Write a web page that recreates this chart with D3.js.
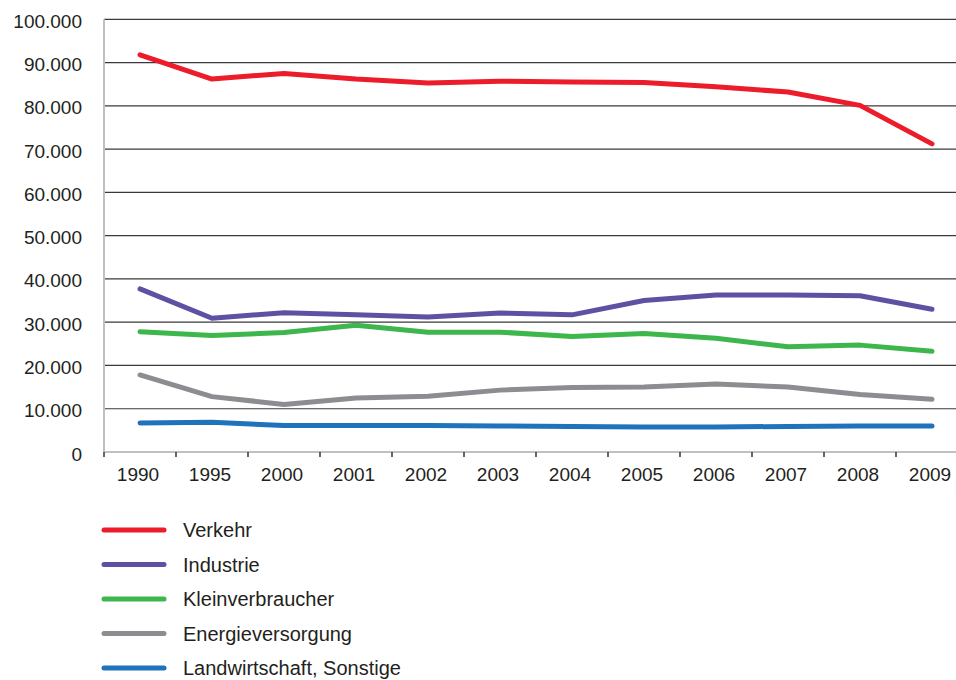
<!DOCTYPE html>
<html>
<head>
<meta charset="utf-8">
<script src="https://cdn.jsdelivr.net/npm/d3@7"></script>
<style>
  body { margin: 0; background: #fff; }
  text { font-family: "Liberation Sans", Arial, sans-serif; fill: #231f20; }
</style>
</head>
<body>
<svg id="chart" width="956" height="680"></svg>
<script>
const years = ['1990', '1995', '2000', '2001', '2002', '2003', '2004', '2005', '2006', '2007', '2008', '2009']
const yTicks = [0, 10000, 20000, 30000, 40000, 50000, 60000, 70000, 80000, 90000, 100000]

const verkehr = [91800, 86200, 87500, 86200, 85300, 85700, 85500, 85400, 84400, 83200, 80100, 71200]
const industrie = [37700, 30900, 32200, 31700, 31200, 32100, 31700, 35000, 36300, 36300, 36100, 33000]
const kleinverbraucher = [27800, 26900, 27600, 29300, 27700, 27700, 26700, 27400, 26300, 24300, 24700, 23300]
const energieversorgung = [17800, 12800, 11000, 12500, 12900, 14300, 14900, 15000, 15700, 15000, 13300, 12200]
const landwirtschaft = [6700, 6900, 6100, 6100, 6100, 6000, 5900, 5800, 5800, 5900, 6000, 6000]

const seriesNames = ['Verkehr', 'Industrie', 'Kleinverbraucher', 'Energieversorgung', 'Landwirtschaft, Sonstige']
const seriesValues = [verkehr, industrie, kleinverbraucher, energieversorgung, landwirtschaft]
const seriesColors = ['#ec1c2a', '#5d51a3', '#3db64b', '#8b8d90', '#1f73ba']

let svg = d3.select('#chart')

let plotLeft = 104
let plotRight = 968 // last band runs past the edge of the picture
let plotTop = 19.3
let plotBottom = 452

let x = d3.scaleBand().domain(years).range([plotLeft, plotRight])
let y = d3.scaleLinear().domain([0, 100000]).range([plotBottom, plotTop])

let fmt = v => v === 0 ? '0' : d3.format(',')(v).replace(/,/g, '.')

// horizontal grid
svg.append('g')
  .selectAll('line')
  .data(yTicks.filter(t => t > 0))
  .enter().append('line')
  .attr('x1', plotLeft)
  .attr('x2', 956)
  .attr('y1', d => y(d))
  .attr('y2', d => y(d))
  .attr('stroke', '#3a3a3a')
  .attr('stroke-width', 1.2)

// y labels
svg.append('g')
  .selectAll('text')
  .data(yTicks)
  .enter().append('text')
  .attr('x', 82)
  .attr('y', d => y(d) + 8.5)
  .attr('text-anchor', 'end')
  .attr('font-size', 19)
  .text(d => fmt(d))

// axes lines
svg.append('line')
  .attr('x1', plotLeft).attr('x2', plotLeft)
  .attr('y1', plotTop).attr('y2', plotBottom)
  .attr('stroke', '#bfbfc6').attr('stroke-width', 2)
svg.append('line')
  .attr('x1', plotLeft).attr('x2', 956)
  .attr('y1', plotBottom).attr('y2', plotBottom)
  .attr('stroke', '#bfbfc6').attr('stroke-width', 2)

// x ticks at band boundaries
svg.append('g')
  .selectAll('line')
  .data(years)
  .enter().append('line')
  .attr('x1', d => x(d))
  .attr('x2', d => x(d))
  .attr('y1', plotBottom)
  .attr('y2', plotBottom + 5)
  .attr('stroke', '#333')
  .attr('stroke-width', 1.5)

svg.append('g')
  .selectAll('text')
  .data(years)
  .enter().append('text')
  .attr('x', d => x(d) + x.bandwidth() / 2 - 2)
  .attr('y', 481)
  .attr('text-anchor', 'middle')
  .attr('font-size', 19)
  .text(d => d)

// series lines
let line = d3.line()
  .x((d, i) => x(years[i]) + x.bandwidth() / 2)
  .y(d => y(d))

svg.append('g')
  .selectAll('path')
  .data(seriesValues)
  .enter().append('path')
  .attr('d', d => line(d))
  .attr('fill', 'none')
  .attr('stroke', (d, i) => seriesColors[i])
  .attr('stroke-width', 5)
  .attr('stroke-linecap', 'round')
  .attr('stroke-linejoin', 'round')

// legend
let legend = svg.append('g')
  .selectAll('g')
  .data(seriesNames)
  .enter().append('g')
  .attr('transform', (d, i) => 'translate(0,' + (530 + i * 34.5) + ')')

legend.append('line')
  .attr('x1', 104)
  .attr('x2', 164)
  .attr('stroke', (d, i) => seriesColors[i])
  .attr('stroke-width', 5)
  .attr('stroke-linecap', 'round')

legend.append('text')
  .attr('x', 183)
  .attr('y', 7)
  .attr('font-size', 20)
  .text(d => d)
</script>
</body>
</html>
